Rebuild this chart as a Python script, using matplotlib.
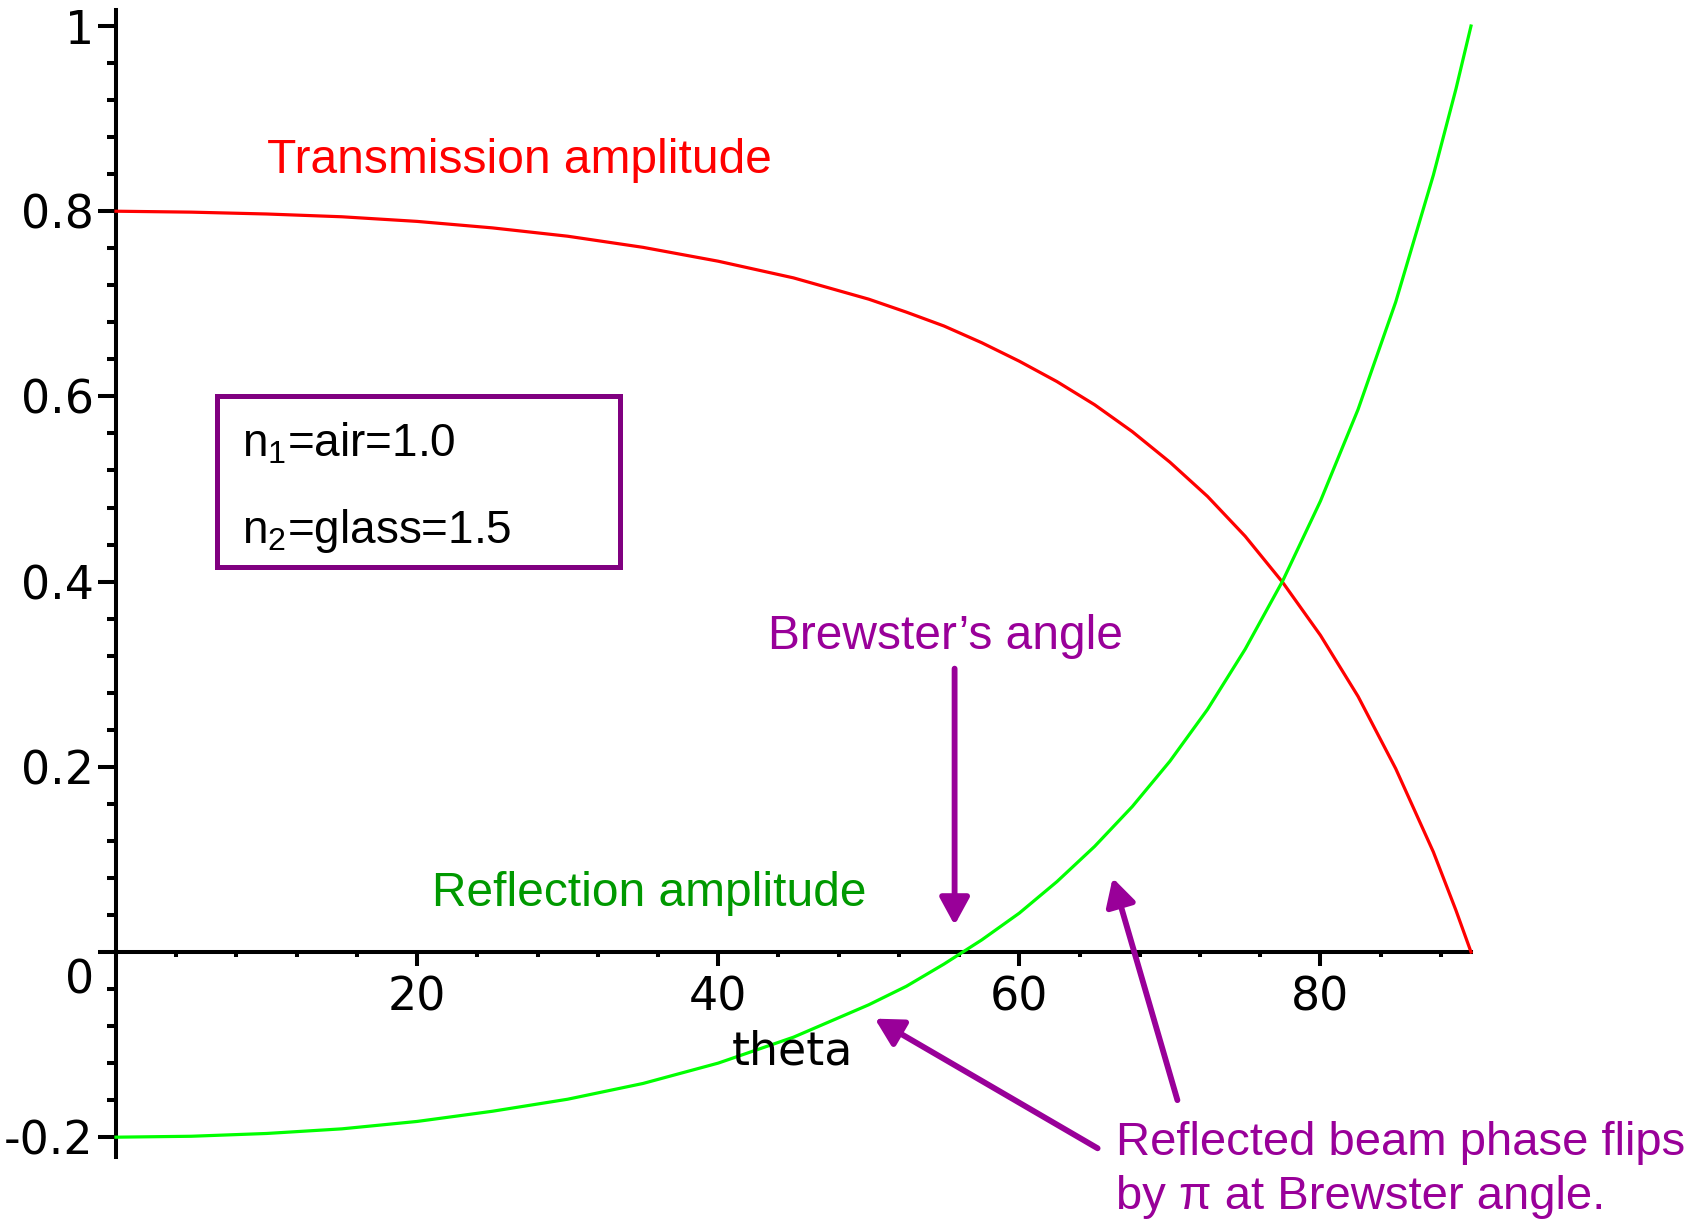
import numpy as np
import matplotlib
matplotlib.use("Agg")
import matplotlib.pyplot as plt
from matplotlib.ticker import MultipleLocator, FixedLocator, FixedFormatter
from matplotlib.patches import Rectangle
import matplotlib.transforms as mtransforms

# angle of incidence (degrees)
theta = [0, 5, 10, 15, 20, 25, 30, 35, 40, 45, 50, 52.5, 55, 57.5, 60,
         62.5, 65, 67.5, 70, 72.5, 75, 77.5, 80, 82.5, 85, 87.5, 89, 90]
trans_amp = [0.800, 0.799, 0.797, 0.794, 0.789, 0.782, 0.773, 0.761, 0.746,
             0.728, 0.705, 0.691, 0.676, 0.658, 0.638, 0.616, 0.591, 0.562,
             0.529, 0.492, 0.449, 0.399, 0.342, 0.276, 0.198, 0.108, 0.045, 0.0]
refl_amp = [-0.200, -0.199, -0.196, -0.191, -0.183, -0.172, -0.159, -0.142,
            -0.120, -0.092, -0.057, -0.037, -0.013, 0.013, 0.042, 0.076,
            0.114, 0.157, 0.206, 0.262, 0.327, 0.401, 0.487, 0.586, 0.702,
            0.839, 0.932, 1.0]

ytick_vals = [-0.2, 0, 0.2, 0.4, 0.6, 0.8, 1]
ytick_text = ["-0.2", "0", "0.2", "0.4", "0.6", "0.8", "1"]
xtick_vals = [20, 40, 60, 80]
xtick_text = ["20", "40", "60", "80"]

RED = "#ff0000"
GREEN = "#00ff00"
DKGREEN = "#009900"
PURPLE = "#990099"
BOXPURPLE = "#800080"

sans = "Liberation Sans"
plt.rcParams["mathtext.fontset"] = "custom"
plt.rcParams["mathtext.rm"] = sans
plt.rcParams["mathtext.it"] = sans + ":italic"

fig = plt.figure(figsize=(16.95, 12.19), dpi=100)
ax = fig.add_axes([116 / 1695, 62 / 1219, 1355 / 1695, 1147 / 1219])

ax.plot(theta, trans_amp, color=RED, lw=2.3, clip_on=False, zorder=3)
ax.plot(theta, refl_amp, color=GREEN, lw=2.3, clip_on=False, zorder=3)

ax.set_xlim(0, 90)
ax.set_ylim(-0.2214, 1.0173)

# maple style axes crossing at the origin
for s in ["top", "right"]:
    ax.spines[s].set_visible(False)
ax.spines["bottom"].set_position(("data", 0))
ax.spines["left"].set_linewidth(2.9)
ax.spines["bottom"].set_linewidth(2.9)

ax.yaxis.set_major_locator(FixedLocator(ytick_vals))
ax.yaxis.set_major_formatter(FixedFormatter(ytick_text))
ax.yaxis.set_minor_locator(MultipleLocator(0.04))
ax.xaxis.set_major_locator(FixedLocator(xtick_vals))
ax.xaxis.set_major_formatter(FixedFormatter(xtick_text))
ax.xaxis.set_minor_locator(MultipleLocator(4))

tick_font = 33
ax.tick_params(axis="y", which="major", length=13, width=2.9, pad=3,
               labelsize=tick_font)
ax.tick_params(axis="y", which="minor", length=6.5, width=2.9)
ax.tick_params(axis="x", which="major", length=10, width=2.9, pad=7,
               labelsize=tick_font)
ax.tick_params(axis="x", which="minor", length=3.6, width=2.9)

# the "0" label sits under the x axis
zero_lbl = ax.yaxis.get_major_ticks()[1].label1
zero_lbl.set_transform(zero_lbl.get_transform() +
                       mtransforms.ScaledTranslation(0, -24 / 100, fig.dpi_scale_trans))

ax.text(44.9, -0.108, "theta", fontsize=tick_font, ha="center", va="center")

ax.text(10.0, 0.841, "Transmission amplitude", color=RED, fontsize=34.5,
        family=sans, va="baseline")
ax.text(21.0, 0.050, "Reflection amplitude", color=DKGREEN, fontsize=34.5,
        family=sans, va="baseline")
ax.text(43.3, 0.327, "Brewster\u2019s angle", color=PURPLE, fontsize=34.5,
        family=sans, va="baseline")

# box with the refractive indices
ax.add_patch(Rectangle((6.7, 0.416), 26.8, 0.184, fill=False,
                       edgecolor=BOXPURPLE, lw=3.6, zorder=4))
ax.text(8.4, 0.535, r"n$_1$=air=1.0", fontsize=33, family=sans, va="baseline")
ax.text(8.4, 0.442, r"n$_2$=glass=1.5", fontsize=33, family=sans, va="baseline")

arrow = dict(arrowstyle="-|>,head_length=0.55,head_width=0.3", color=PURPLE,
             lw=4.2, mutation_scale=30, shrinkA=0, shrinkB=0)
ax.annotate("", xy=(55.7, 0.029), xytext=(55.7, 0.306), arrowprops=arrow,
            annotation_clip=False)
ax.annotate("", xy=(66.2, 0.080), xytext=(70.5, -0.160), arrowprops=arrow,
            annotation_clip=False)
ax.annotate("", xy=(50.4, -0.072), xytext=(65.2, -0.212), arrowprops=arrow,
            annotation_clip=False)

ax.text(66.4, -0.219, "Reflected beam phase flips", color=PURPLE, fontsize=34,
        family=sans, va="baseline", clip_on=False)
ax.text(66.4, -0.278, "by \u03c0 at Brewster angle.", color=PURPLE, fontsize=34,
        family=sans, va="baseline", clip_on=False)

fig.savefig("out.png", dpi=100)
